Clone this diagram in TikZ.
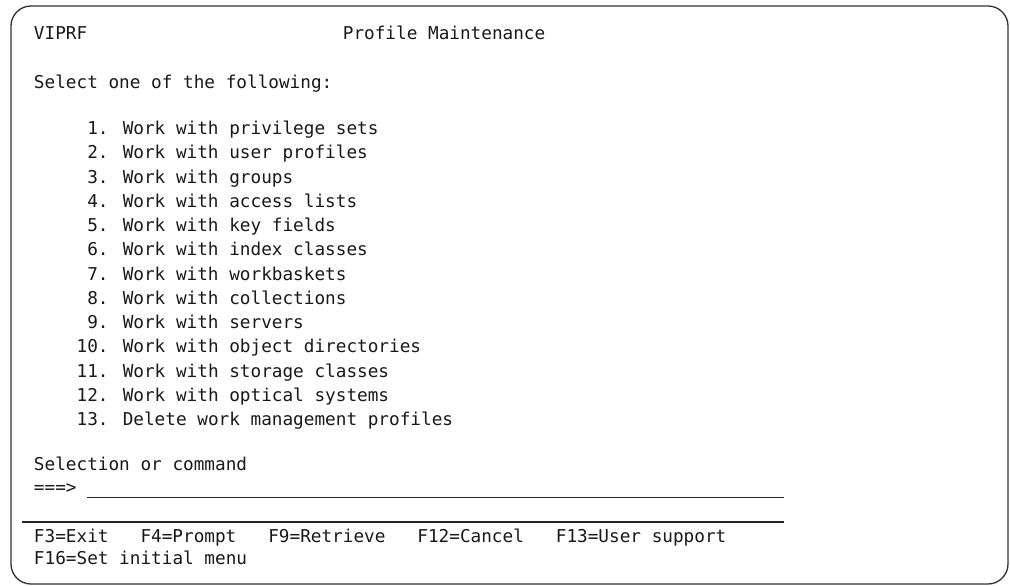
\documentclass[tikz,border=0pt]{standalone}
\usepackage{fontspec}
\newfontfamily\scrfont{DejaVu Sans Mono}
\begin{document}
\begin{tikzpicture}[x=1pt,y=-1pt,
  txt/.style={anchor=base west,inner sep=0pt,outer sep=0pt,text=black!90,
    font=\scrfont\fontsize{17.7}{22}\selectfont},
  frame/.style={draw=black!80,line width=1.3pt,rounded corners=20pt},
  rule/.style={draw=black!85,line width=1.6pt}]
\def\cw{10.65}
\def\cx{34}
\useasboundingbox[fill=white] (0,0) rectangle (1010,586);
\draw[frame] (11,6) rectangle (1008,584);
% header
\node[txt] (hdr1) at (\cx,39.5) {VIPRF};
\node[txt] (hdr2) at ({\cx+29*\cw},39.5) {Profile Maintenance};
\node[txt] (sel) at (\cx,88.5) {Select one of the following:};
% menu items
\foreach \n/\t [count=\i from 0] in {
  1/{1. Work with privilege sets},
  2/{2. Work with user profiles},
  3/{3. Work with groups},
  4/{4. Work with access lists},
  5/{5. Work with key fields},
  6/{6. Work with index classes},
  7/{7. Work with workbaskets},
  8/{8. Work with collections},
  9/{9. Work with servers}}
  \node[txt] (item\n) at ({\cx+5*\cw},{134.5+\i*24.25}) {\t};
\foreach \n/\t [count=\i from 9] in {
  10/{10. Work with object directories},
  11/{11. Work with storage classes},
  12/{12. Work with optical systems},
  13/{13. Delete work management profiles}}
  \node[txt] (item\n) at ({\cx+4*\cw},{134.5+\i*24.25}) {\t};
% command line
\node[txt] (cmdlbl) at (\cx,470) {Selection or command};
\node[txt] (arrow) at (\cx,493) {===>};
\coordinate (ulA) at (87,497.5);
\coordinate (ulB) at (784,497.5);
\draw[rule] (ulA) -- (ulB);
\coordinate (sepA) at (22,522);
\coordinate (sepB) at (784,522);
\draw[rule] (sepA) -- (sepB);
% function keys
\node[txt] (f3) at (\cx,542) {F3=Exit};
\node[txt] (f4) at ({\cx+10*\cw},542) {F4=Prompt};
\node[txt] (f9) at ({\cx+22*\cw},542) {F9=Retrieve};
\node[txt] (f12) at ({\cx+36*\cw},542) {F12=Cancel};
\node[txt] (f13) at ({\cx+49*\cw},542) {F13=User support};
\node[txt] (f16) at (\cx,564.5) {F16=Set initial menu};
\end{tikzpicture}
\end{document}
